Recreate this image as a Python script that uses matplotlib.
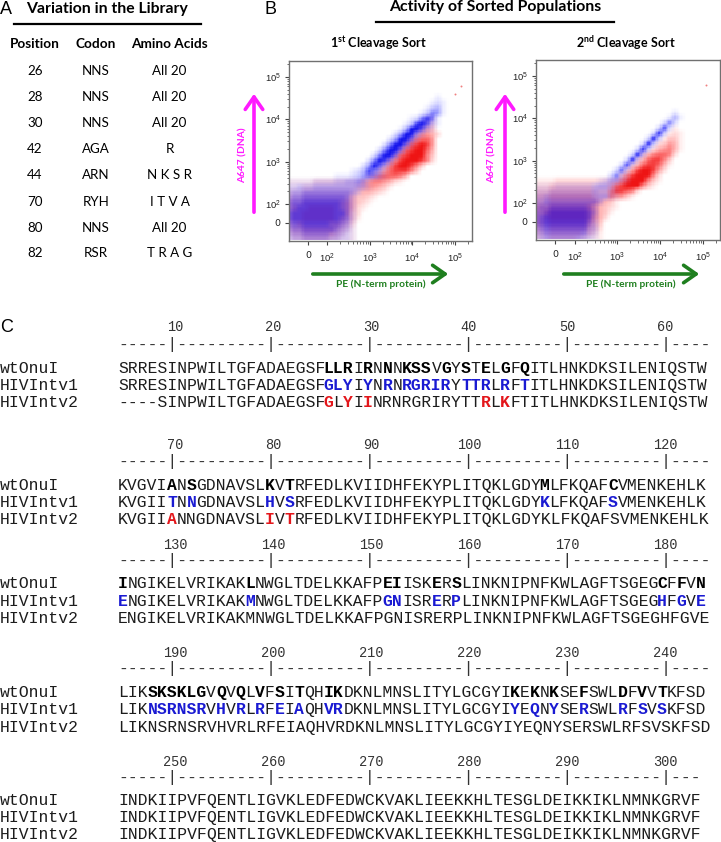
import numpy as np
import matplotlib
matplotlib.use("Agg")
import matplotlib.pyplot as plt
from matplotlib.colors import LinearSegmentedColormap
from matplotlib.ticker import FixedLocator, SymmetricalLogLocator, NullFormatter
from matplotlib.patches import FancyArrowPatch
from matplotlib.lines import Line2D

# ---------------- data ----------------
lib_positions = ["26", "28", "30", "42", "44", "70", "80", "82"]
lib_codons = ["NNS", "NNS", "NNS", "AGA", "ARN", "RYH", "NNS", "RSR"]
lib_aas = ["All 20", "All 20", "All 20", "R", "N K S R", "I T V A", "All 20", "T R A G"]

# FACS dot density (0-9); rows top->bottom, "start:digits"
p1_red = ["", "", "", "", "", "", "", "", "", "", "",
          "26:11", "25:122", "24:1343", "23:135542", "22:146775", "21:1478985",
          "20:14789974", "19:147899963", "18:1468999862", "17:136899863",
          "16:135788863", "15:24677764", "0:1111122222222245665421",
          "0:11122222222223455431", "0:2223333333333344321", "0:33344444444443321",
          "0:4445555555554321", "0:455566666555421", "0:45566666655532",
          "0:45566666655431", "0:4455555555432", "0:3445555554321",
          "0:2334444443211", "0:1223333322111"]
p1_blue = ["", "", "", "", "", "", "", "28:1", "27:121", "26:1341", "25:13651",
           "23:126861", "22:1389731", "21:1499731", "20:259952", "19:259962",
           "18:269962", "17:269961", "16:269961", "15:269851", "14:259741",
           "12:1248641", "9:1112356531", "0:1111122223344541", "0:2233344444444431",
           "0:34455555555542", "0:4556666666652", "0:5667777777652", "0:5677777777652",
           "0:6777777777752", "0:6777777777652", "0:5667777766541", "0:4556666665431",
           "0:3445555544321", "0:2334444433221"]
p2_red = ["", "", "", "", "", "", "", "", "", "", "", "", "",
          "26:1", "25:121", "24:1331", "23:23541", "22:245641", "20:2467762",
          "19:2478863", "18:24788741", "17:25899852", "16:36899962",
          "0:111122222222222368999631", "0:22233333333222478999631",
          "0:33344444444333688762", "0:4445555555543365531", "0:4445555555554431",
          "0:5556666666654321", "0:556777777765431", "0:55677777776542",
          "0:5556666666543", "0:4445555555432", "0:3334444443321", "0:2223333322111"]
p2_blue = ["", "", "", "", "", "", "", "", "", "", "26:1", "25:141", "24:262", "23:282",
           "22:293", "21:293", "20:293", "19:293", "18:293", "17:292", "16:282",
           "15:272", "14:2621", "12:124421", "0:1111222222234431",
           "0:2223333333343321", "0:3344444444444421", "0:4455555555553",
           "0:455666666653", "0:556777777764", "0:567777777763", "0:567777777753",
           "0:456666666643", "0:345555555532", "0:234444444321", "0:122333333221"]
p1_out_x = [1.4e5, 1.0e5]
p1_out_y = [6.0e4, 4.0e4]
p2_out_x = [1.2e5]
p2_out_y = [6.0e4]

tick_vals = [0, 1e2, 1e3, 1e4, 1e5]
tick_labels = ["0", r"$10^2$", r"$10^3$", r"$10^4$", r"$10^5$"]

seq_names = ["wtOnuI", "HIVIntv1", "HIVIntv2"]
blocks = [
    ["SRRESINPWILTGFADAEGSFLLRIRNNNKSSVGYSTELGFQITLHNKDKSILENIQSTW",
     "SRRESINPWILTGFADAEGSFGLYIYNRNRGRIRYTTRLRFTITLHNKDKSILENIQSTW",
     "----SINPWILTGFADAEGSFGLYIINRNRGRIRYTTRLKFTITLHNKDKSILENIQSTW"],
    ["KVGVIANSGDNAVSLKVTRFEDLKVIIDHFEKYPLITQKLGDYMLFKQAFCVMENKEHLK",
     "KVGIITNNGDNAVSLHVSRFEDLKVIIDHFEKYPLITQKLGDYKLFKQAFSVMENKEHLK",
     "KVGIIANNGDNAVSLIVTRFEDLKVIIDHFEKYPLITQKLGDYKLFKQAFSVMENKEHLK"],
    ["INGIKELVRIKAKLNWGLTDELKKAFPEIISKERSLINKNIPNFKWLAGFTSGEGCFFVN",
     "ENGIKELVRIKAKMNWGLTDELKKAFPGNISRERPLINKNIPNFKWLAGFTSGEGHFGVE",
     "ENGIKELVRIKAKMNWGLTDELKKAFPGNISRERPLINKNIPNFKWLAGFTSGEGHFGVE"],
    ["LIKSKSKLGVQVQLVFSITQHIKDKNLMNSLITYLGCGYIKEKNKSEFSWLDFVVTKFSD",
     "LIKNSRNSRVHVRLRFEIAQHVRDKNLMNSLITYLGCGYIYEQNYSERSWLRFSVSKFSD",
     "LIKNSRNSRVHVRLRFEIAQHVRDKNLMNSLITYLGCGYIYEQNYSERSWLRFSVSKFSD"],
    ["INDKIIPVFQENTLIGVKLEDFEDWCKVAKLIEEKKHLTESGLDEIKKIKLNMNKGRVF",
     "INDKIIPVFQENTLIGVKLEDFEDWCKVAKLIEEKKHLTESGLDEIKKIKLNMNKGRVF",
     "INDKIIPVFQENTLIGVKLEDFEDWCKVAKLIEEKKHLTESGLDEIKKIKLNMNKGRVF"],
]
rulers = ["-----|---------|---------|---------|---------|---------|----"] * 4 + \
         ["-----|---------|---------|---------|---------|---------|---"]
ruler_numbers = [[10, 20, 30, 40, 50, 60], [70, 80, 90, 100, 110, 120],
                 [130, 140, 150, 160, 170, 180], [190, 200, 210, 220, 230, 240],
                 [250, 260, 270, 280, 290, 300]]
wt_bold = [[21, 22, 23, 25, 27, 29, 30, 31, 33, 35, 37, 39, 41],
           [5, 7, 15, 17, 43, 50],
           [0, 13, 27, 28, 32, 34, 55, 57, 59],
           [3, 4, 5, 6, 7, 8, 10, 12, 14, 16, 18, 21, 22, 40, 42, 44, 47, 51, 53, 55],
           []]
v1_blue = [[21, 22, 23, 25, 27, 29, 30, 31, 32, 33, 35, 36, 37, 39, 41],
           [5, 7, 15, 17, 43, 50],
           [0, 13, 27, 28, 32, 34, 55, 57, 59],
           [3, 4, 5, 6, 7, 8, 10, 12, 14, 16, 18, 21, 22, 40, 42, 44, 47, 51, 53, 55],
           []]
v2_red = [[21, 23, 25, 37, 39], [5, 15, 17], [], [], []]

# ---------------- layout ----------------
W, H, DPI = 721, 842, 100
fig = plt.figure(figsize=(W / DPI, H / DPI), dpi=DPI)
fig.patch.set_facecolor("white")

SANS = "Lato"
MONO = "Liberation Mono"
plt.rcParams["mathtext.fontset"] = "custom"
plt.rcParams["mathtext.rm"] = "Liberation Sans"
plt.rcParams["mathtext.bf"] = "Lato:bold"


def fx(x):
    return x / W


def fy(y):
    return 1 - y / H


def ftext(x, y, s, **kw):
    return fig.text(fx(x), fy(y), s, **kw)


def hline(x0, x1, y, lw=1.6, color="black"):
    fig.add_artist(Line2D([fx(x0), fx(x1)], [fy(y), fy(y)], lw=lw, color=color,
                          transform=fig.transFigure))


def farrow(x0, y0, x1, y1, color):
    fig.add_artist(FancyArrowPatch((fx(x0), fy(y0)), (fx(x1), fy(y1)),
                                   transform=fig.transFigure,
                                   arrowstyle="->,head_length=0.6,head_width=0.42",
                                   mutation_scale=15, lw=2.6, color=color))


# ---------------- Panel A ----------------
ftext(0, 9, "A", fontfamily="Liberation Sans", fontsize=13, va="center", ha="left")
ftext(107, 9, "Variation in the Library", fontfamily=SANS, fontweight="bold",
      fontsize=11.3, ha="center", va="center")
hline(14, 201, 24)
col_x = [35, 96, 169.5]
for x, h in zip(col_x, ["Position", "Codon", "Amino Acids"]):
    ftext(x, 44, h, fontfamily=SANS, fontweight="bold", fontsize=9.8, ha="center", va="center")
row_y = [71, 97, 123, 149, 175, 202, 228, 253]
for y, p, c, a in zip(row_y, lib_positions, lib_codons, lib_aas):
    ftext(col_x[0], y, p, fontfamily=SANS, fontsize=9.6, ha="center", va="center")
    ftext(col_x[1], y, c, fontfamily=SANS, fontsize=9.6, ha="center", va="center")
    ftext(col_x[2], y, a, fontfamily=SANS, fontsize=9.6, ha="center", va="center")

# ---------------- Panel B ----------------
ftext(265, 9, "B", fontfamily="Liberation Sans", fontsize=13, va="center", ha="left")
ftext(495, 7.5, "Activity of Sorted Populations", fontfamily=SANS, fontweight="bold",
      fontsize=11.4, ha="center", va="center")
hline(376, 614, 22)
ftext(378.5, 43, r"1$^{\mathbf{st}}$ Cleavage Sort", fontfamily=SANS, fontweight="bold",
      fontsize=9, ha="center", va="center")
ftext(626, 43, r"2$^{\mathbf{nd}}$ Cleavage Sort", fontfamily=SANS, fontweight="bold",
      fontsize=9, ha="center", va="center")

red_cm = LinearSegmentedColormap.from_list(
    "r", [(0.0, (1, 0, 0, 0)), (0.45, (1, 0, 0, 0.3)), (0.78, (0.97, 0, 0, 0.6)),
          (1.0, (0.93, 0, 0, 0.92))])
blue_cm = LinearSegmentedColormap.from_list(
    "b", [(0.0, (0, 0, 1, 0)), (0.45, (0, 0, 1, 0.3)), (0.78, (0, 0, 0.97, 0.62)),
          (1.0, (0, 0, 0.92, 0.92))])
MAGENTA = "#ff1aff"
GREEN = "#1f7f1f"


def parse_grid(rows, n=35):
    g = np.zeros((n, n))
    for j, r in enumerate(rows[:n]):
        if not r:
            continue
        s, d = r.split(":")
        s = int(s)
        for k, ch in enumerate(d):
            if s + k < n:
                g[j, s + k] = int(ch)
    return g


def smooth(g, k=4):
    """bilinear resampling of a vertex grid onto cell centres of a k-times finer grid"""
    n = g.shape[0]
    fine_v = np.linspace(0, n - 1, (n - 1) * k + 1)
    cen = 0.5 * (fine_v[1:] + fine_v[:-1])
    idx = np.arange(n)
    rows = np.array([np.interp(cen, idx, g[j]) for j in range(n)])
    out = np.array([np.interp(cen, idx, rows[:, i]) for i in range(rows.shape[1])]).T
    return fine_v, out


def facs(box, red_rows, blue_rows, out_x, out_y, arrow_x, label_x, garrow, glabel_x):
    l, t, r, b = box
    ax = fig.add_axes([fx(l), fy(b), (r - l) / W, (b - t) / H])
    for axis in ("x", "y"):
        getattr(ax, "set_%sscale" % axis)("symlog", linthresh=100, linscale=0.405)
    ax.set_xlim(-100, 2.5e5)
    ax.set_ylim(-95, 2.4e5)
    fine, red_c = smooth(parse_grid(red_rows))
    _, blue_c = smooth(parse_grid(blue_rows))
    u = (-0.45 + 0.125 * fine) * 100
    v = (3.85 - 0.125 * fine) * 100
    xs = ax.xaxis.get_transform().inverted().transform(u.reshape(-1, 1)).ravel()
    ys = ax.yaxis.get_transform().inverted().transform(v.reshape(-1, 1)).ravel()
    X, Y = np.meshgrid(xs, ys)
    ax.pcolormesh(X, Y, red_c, shading="flat", cmap=red_cm, vmin=0, vmax=9,
                  antialiased=False, linewidth=0, zorder=1, rasterized=True)
    ax.pcolormesh(X, Y, blue_c, shading="flat", cmap=blue_cm, vmin=0, vmax=9,
                  antialiased=False, linewidth=0, zorder=2, rasterized=True)
    ax.scatter(out_x, out_y, s=2, color="#f08080", zorder=3, linewidths=0)
    for axis in (ax.xaxis, ax.yaxis):
        axis.set_major_locator(FixedLocator(tick_vals))
        axis.set_minor_locator(SymmetricalLogLocator(linthresh=100, base=10,
                                                     subs=np.arange(2, 10)))
        axis.set_minor_formatter(NullFormatter())
    ax.set_xticklabels(tick_labels)
    ax.set_yticklabels(tick_labels)
    ax.tick_params(which="major", length=3, width=0.8, color="#444444",
                   labelsize=6.8, labelcolor="#222222")
    ax.tick_params(which="minor", length=1.8, width=0.6, color="#555555")
    ax.tick_params(axis="x", which="major", pad=4.5)
    ax.tick_params(axis="y", which="major", pad=3)
    for sp in ax.spines.values():
        sp.set_color("#707070")
        sp.set_linewidth(1.0)
    farrow(arrow_x, 215, arrow_x, 91, MAGENTA)
    ftext(label_x, 155, "A647 (DNA)", rotation=90, color=MAGENTA, fontfamily=SANS,
          fontweight="bold", fontsize=7.3, ha="center", va="center")
    farrow(garrow[0], 274, garrow[1], 274, GREEN)
    ftext(glabel_x, 284.5, "PE (N-term protein)", color=GREEN, fontfamily=SANS,
          fontweight="bold", fontsize=7.3, ha="center", va="center")
    return ax


facs((289, 61, 472, 241), p1_red, p1_blue, p1_out_x, p1_out_y, 254, 243.5, (310, 451), 381)
facs((536, 60, 720, 240), p2_red, p2_blue, p2_out_x, p2_out_y, 505, 492, (561, 702), 631)

# ---------------- Panel C ----------------
ftext(0, 328, "C", fontfamily="Liberation Sans", fontsize=13, va="center", ha="left")
FS = 11.76
CW = 0.6 * FS * DPI / 72.0
X0 = 118.0
BASE = 4.7
num_y = [327, 445, 545, 653, 762]
ruler_y = [344, 461, 560, 668, 777]
rows_y = [[368, 385, 402], [485, 502, 519], [583, 601, 618], [692, 709, 727], [800, 817, 834]]
BLUE = "#1a1ad2"
RED = "#e3161b"


def draw_seq(y, seq, bold_cols, col_cols, color):
    styles = []
    for c in range(len(seq)):
        if c in col_cols:
            styles.append(("bold", color))
        elif c in bold_cols:
            styles.append(("bold", "black"))
        else:
            styles.append(("normal", "#1c1c1c"))
    c = 0
    while c < len(seq):
        e = c
        while e < len(seq) and styles[e] == styles[c]:
            e += 1
        ftext(X0 + c * CW, y + BASE, seq[c:e], fontfamily=MONO, fontsize=FS,
              fontweight=styles[c][0], color=styles[c][1], ha="left", va="baseline")
        c = e


for bi in range(5):
    for k, num in enumerate(ruler_numbers[bi]):
        col = 5 + 10 * k
        ftext(X0 + (col + 0.5) * CW + 3, num_y[bi] + 4, str(num), fontfamily=MONO,
              fontsize=9.8, color="#333333", ha="center", va="baseline")
    ftext(X0, ruler_y[bi] + 4.6, rulers[bi], fontfamily=MONO, fontsize=FS,
          color="#333333", ha="left", va="baseline")
    wt, v1, v2 = blocks[bi]
    ys = rows_y[bi]
    for name, y in zip(seq_names, ys):
        ftext(0, y + BASE, name, fontfamily=MONO, fontsize=FS, color="#1c1c1c",
              ha="left", va="baseline")
    draw_seq(ys[0], wt, wt_bold[bi], [], "black")
    draw_seq(ys[1], v1, [], v1_blue[bi], BLUE)
    draw_seq(ys[2], v2, [], v2_red[bi], RED)

fig.savefig("out.png", dpi=DPI, facecolor="white")
